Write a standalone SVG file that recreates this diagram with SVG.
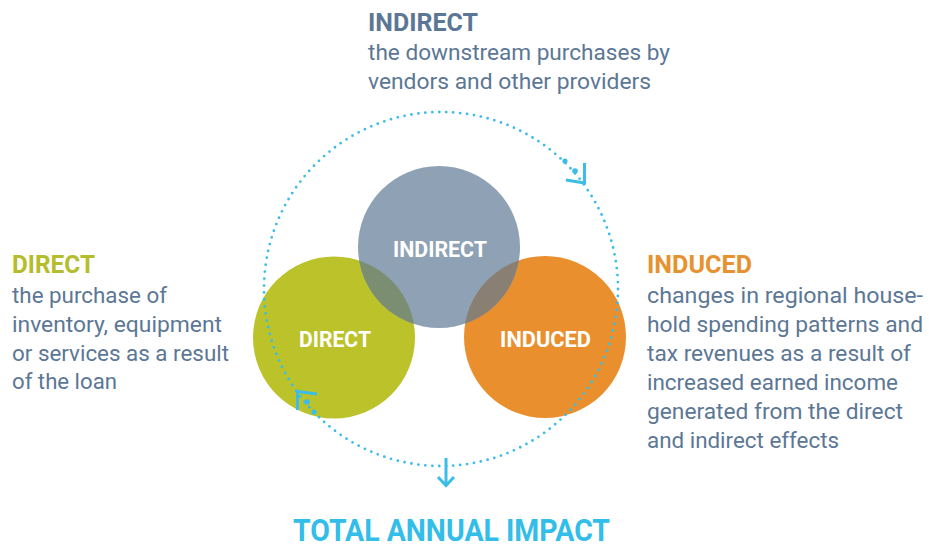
<svg xmlns="http://www.w3.org/2000/svg" width="929" height="550" viewBox="0 0 929 550">
  <defs>
    <style>
      .title { font-family: Roboto, "Liberation Sans", sans-serif; font-weight: 700; font-size: 26.5px; }
      .body { font-family: Roboto, "Liberation Sans", sans-serif; font-weight: 400; font-size: 22px; fill: #5c7795; }
      .label { font-family: Roboto, "Liberation Sans", sans-serif; font-weight: 700; font-size: 22.5px; fill: #ffffff; text-anchor: middle; }
      .total { font-family: Roboto, "Liberation Sans", sans-serif; font-weight: 700; font-size: 32px; fill: #33bde9; }
      .cycle { fill: none; stroke: #3bbde8; stroke-width: 2.8; stroke-linecap: round; stroke-dasharray: 0 1; }
      .chev { fill: none; stroke: #3bbde8; stroke-width: 3; stroke-linecap: butt; stroke-linejoin: miter; }
      .bigdot { fill: #3bbde8; }
    </style>
    <clipPath id="clip-direct"><circle cx="334" cy="337.5" r="81"/></clipPath>
    <clipPath id="clip-induced"><circle cx="545" cy="337" r="81"/></clipPath>
  </defs>

  <!-- effect circles -->
  <g id="node-direct">
    <circle cx="334" cy="337.5" r="81" fill="#bbc22a"/>
  </g>
  <g id="node-induced">
    <circle cx="545" cy="337" r="81" fill="#ea8f2d"/>
  </g>
  <g id="node-indirect">
    <circle cx="439" cy="247" r="81" fill="#8ea1b5"/>
    <circle cx="439" cy="247" r="81" fill="#7b8e72" clip-path="url(#clip-direct)"/>
    <circle cx="439" cy="247" r="81" fill="#8a7f73" clip-path="url(#clip-induced)"/>
    <text class="label" x="440" y="257" textLength="94" lengthAdjust="spacingAndGlyphs">INDIRECT</text>
  </g>
  <g id="node-direct-label">
    <text class="label" x="335" y="347" textLength="72" lengthAdjust="spacingAndGlyphs">DIRECT</text>
  </g>
  <g id="node-induced-label">
    <text class="label" x="545.5" y="347" textLength="91" lengthAdjust="spacingAndGlyphs">INDUCED</text>
  </g>

  <!-- connectors: dotted cycle, direction marks and the arrow to the total -->
  <g id="connectors">
    <circle class="cycle" cx="441" cy="289" r="177" pathLength="159"/>
    <circle class="bigdot" cx="565" cy="161" r="2.6"/>
    <circle class="bigdot" cx="575" cy="171" r="2.8"/>
    <polyline class="chev" points="566,180 584.5,183 584.5,163"/>
    <circle class="bigdot" cx="307" cy="402" r="2.8"/>
    <circle class="bigdot" cx="314" cy="412" r="2.6"/>
    <polyline class="chev" points="317,394 297.5,391.5 297.5,410"/>
    <line class="chev" x1="446" y1="458" x2="446" y2="485"/>
    <polyline class="chev" points="438,477 446,485.5 454,477"/>
  </g>

  <!-- descriptions -->
  <g id="text-indirect">
    <text class="title" x="368" y="31" fill="#5c7795" textLength="110" lengthAdjust="spacingAndGlyphs">INDIRECT</text>
    <text class="body" x="368" y="60" textLength="302" lengthAdjust="spacingAndGlyphs">the downstream purchases by</text>
    <text class="body" x="368" y="89" textLength="283" lengthAdjust="spacingAndGlyphs">vendors and other providers</text>
  </g>
  <g id="text-direct">
    <text class="title" x="12" y="273" fill="#b5bd2c" textLength="83" lengthAdjust="spacingAndGlyphs">DIRECT</text>
    <text class="body" x="12" y="302.5" textLength="155" lengthAdjust="spacingAndGlyphs">the purchase of</text>
    <text class="body" x="12" y="331.5" textLength="210" lengthAdjust="spacingAndGlyphs">inventory, equipment</text>
    <text class="body" x="12" y="360.5" textLength="217" lengthAdjust="spacingAndGlyphs">or services as a result</text>
    <text class="body" x="12" y="389" textLength="105" lengthAdjust="spacingAndGlyphs">of the loan</text>
  </g>
  <g id="text-induced">
    <text class="title" x="647" y="273" fill="#e8912f" textLength="105" lengthAdjust="spacingAndGlyphs">INDUCED</text>
    <text class="body" x="647" y="303" textLength="276" lengthAdjust="spacingAndGlyphs">changes in regional house-</text>
    <text class="body" x="647" y="332" textLength="276" lengthAdjust="spacingAndGlyphs">hold spending patterns and</text>
    <text class="body" x="647" y="361" textLength="264" lengthAdjust="spacingAndGlyphs">tax revenues as a result of</text>
    <text class="body" x="647" y="390" textLength="251" lengthAdjust="spacingAndGlyphs">increased earned income</text>
    <text class="body" x="647" y="419" textLength="256" lengthAdjust="spacingAndGlyphs">generated from the direct</text>
    <text class="body" x="647" y="448" textLength="192" lengthAdjust="spacingAndGlyphs">and indirect effects</text>
  </g>
  <g id="text-total">
    <text class="total" x="293" y="541" textLength="317" lengthAdjust="spacingAndGlyphs">TOTAL ANNUAL IMPACT</text>
  </g>
</svg>
